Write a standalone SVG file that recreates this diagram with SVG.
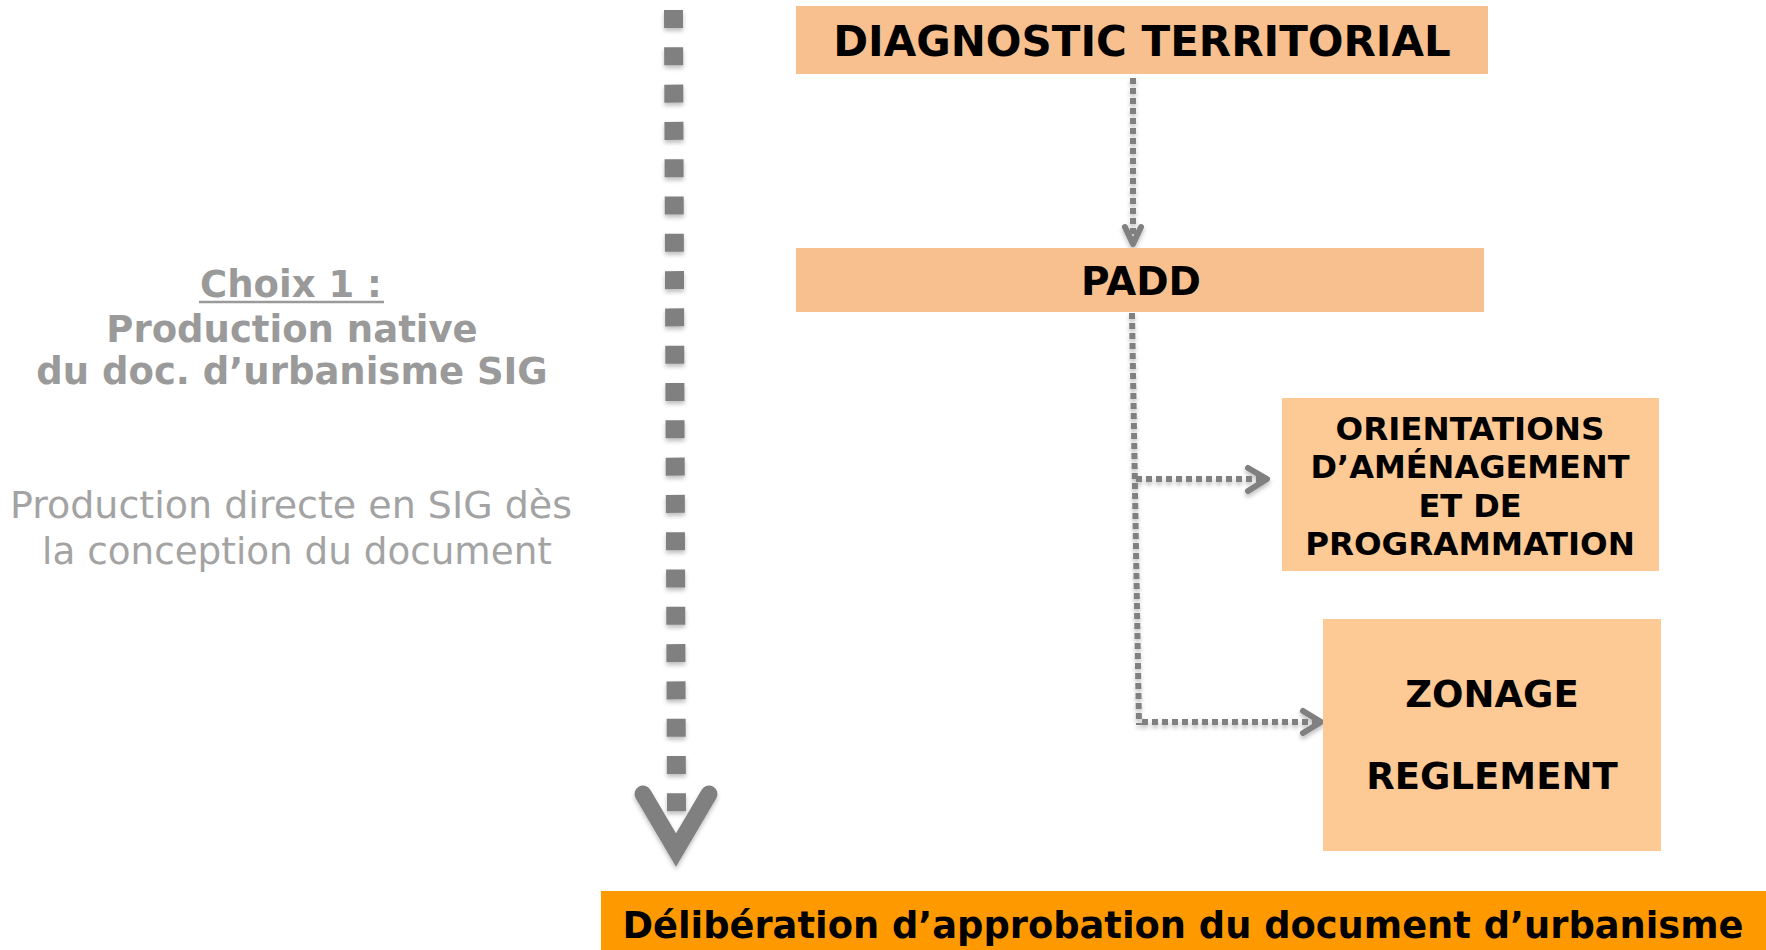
<svg xmlns="http://www.w3.org/2000/svg" width="1766" height="950" viewBox="0 0 1766 950">
<defs>
<style>
.box{fill:#F9C08F}
.box2{fill:#FDC995}
.t{font-family:"DejaVu Sans",Verdana,sans-serif;font-weight:bold;fill:#000;text-anchor:middle}
.g{font-family:"DejaVu Sans",Verdana,sans-serif;text-anchor:middle}
.dash{fill:none;stroke:#808080;stroke-width:6;stroke-dasharray:6 4}
.head{fill:none;stroke:#808080;stroke-width:6;stroke-linecap:round;stroke-linejoin:round}
</style>
<filter id="sh" x="-20%" y="-20%" width="140%" height="140%">
<feDropShadow dx="0" dy="3" stdDeviation="2" flood-color="#000" flood-opacity="0.25"/>
</filter>
</defs>
<rect width="1766" height="950" fill="#fff"/>

<g id="left-text">
<text class="g" x="291" y="297" font-size="37" font-weight="bold" fill="#9A9A9A">Choix 1 :</text>
<line x1="199" y1="302" x2="384" y2="302" stroke="#9A9A9A" stroke-width="2.5"/>
<text class="g" x="292" y="342" font-size="37" font-weight="bold" fill="#9A9A9A">Production native</text>
<text class="g" x="292" y="384" font-size="37" font-weight="bold" fill="#9A9A9A">du doc. d’urbanisme SIG</text>
<text class="g" x="291" y="518" font-size="38" fill="#A3A3A3">Production directe en SIG dès</text>
<text class="g" x="297" y="564" font-size="37.3" fill="#A3A3A3">la conception du document</text>
</g>

<g id="timeline" filter="url(#sh)">
<line x1="673.5" y1="10" x2="676.5" y2="812" stroke="#808080" stroke-width="19" stroke-dasharray="18 19.3"/>
<polyline points="643,794 676,850 709,794" fill="none" stroke="#808080" stroke-width="17" stroke-linecap="round" stroke-linejoin="miter" stroke-miterlimit="10"/>
</g>

<g id="connectors" filter="url(#sh)">
<line class="dash" x1="1133" y1="78" x2="1133" y2="243"/>
<polyline class="head" points="1125,227 1133,244 1141,227"/>
<line class="dash" x1="1132" y1="313" x2="1139" y2="725"/>
<line class="dash" x1="1136" y1="479" x2="1264" y2="479"/>
<polyline class="head" points="1248,468 1267,479 1248,491"/>
<line class="dash" x1="1142" y1="722" x2="1318" y2="722"/>
<polyline class="head" points="1303,711 1321,722 1303,733"/>
</g>

<g id="diagnostic">
<rect class="box" x="796" y="6" width="692" height="68"/>
<text class="t" x="1142" y="56" font-size="42">DIAGNOSTIC TERRITORIAL</text>
</g>

<g id="padd">
<rect class="box" x="796" y="248" width="688" height="64"/>
<text class="t" x="1141" y="295" font-size="39">PADD</text>
</g>

<g id="oap">
<rect class="box2" x="1282" y="398" width="377" height="173"/>
<text class="t" x="1470" y="440" font-size="32.5">ORIENTATIONS</text>
<text class="t" x="1470" y="478" font-size="32">D’AMÉNAGEMENT</text>
<text class="t" x="1470" y="517" font-size="32">ET DE</text>
<text class="t" x="1470" y="555" font-size="32.5">PROGRAMMATION</text>
</g>

<g id="zonage">
<rect class="box2" x="1323" y="619" width="338" height="232"/>
<text class="t" x="1492" y="707" font-size="37">ZONAGE</text>
<text class="t" x="1492" y="789" font-size="37">REGLEMENT</text>
</g>

<g id="deliberation">
<rect x="601" y="891" width="1165" height="59" fill="#FF9900"/>
<text class="t" x="1183" y="938" font-size="36.8">Délibération d’approbation du document d’urbanisme</text>
</g>
</svg>
